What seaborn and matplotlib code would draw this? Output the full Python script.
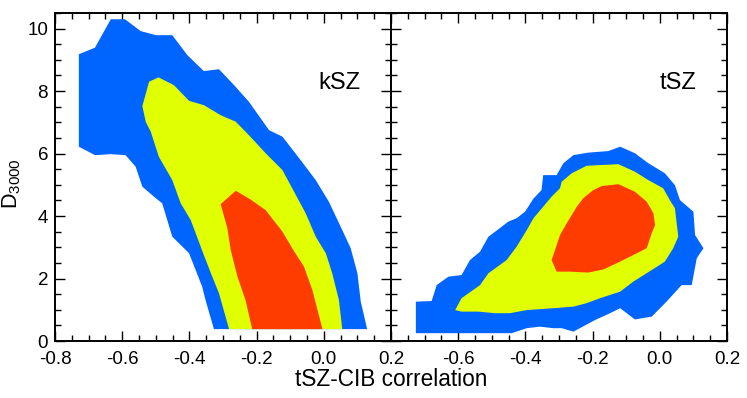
import matplotlib
matplotlib.use("Agg")
import matplotlib.pyplot as plt
from matplotlib.ticker import MultipleLocator
import seaborn as sns

sns.set_theme(style="ticks")
plt.rcParams['font.family'] = ['Liberation Sans', 'DejaVu Sans']
plt.rcParams['mathtext.fontset'] = 'custom'
plt.rcParams['mathtext.rm'] = 'Liberation Sans'
plt.rcParams['mathtext.it'] = 'Liberation Sans'
plt.rcParams['text.color'] = 'black'

BLUE = "#0064ff"
YELLOW = "#e0ff00"
RED = "#ff3c00"

# kSZ panel contours (68/95/99 style regions)
ksz_outer_x = [-0.729, -0.681, -0.634, -0.592, -0.545, -0.500, -0.451, -0.406, -0.357, -0.312,
               -0.267, -0.223, -0.163, -0.123, -0.069, -0.024, 0.015, 0.055, 0.080, 0.100,
               0.110, 0.129, -0.327, -0.352, -0.362, -0.401, -0.451, -0.481, -0.500, -0.540,
               -0.560, -0.590, -0.634, -0.681, -0.729]
ksz_outer_y = [9.18, 9.39, 10.30, 10.30, 9.92, 9.79, 9.79, 9.15, 8.64, 8.70,
               8.19, 7.66, 6.75, 6.54, 5.79, 5.15, 4.46, 3.55, 2.97, 2.17,
               1.26, 0.38, 0.38, 1.31, 1.74, 2.81, 3.34, 4.41, 4.57, 4.94,
               5.58, 5.95, 5.98, 5.95, 6.22]

ksz_mid_x = [-0.540, -0.520, -0.492, -0.446, -0.401, -0.357, -0.307, -0.262, -0.223, -0.173,
             -0.123, -0.094, -0.054, -0.024, 0.006, 0.025, 0.045, 0.055, -0.282, -0.312,
             -0.332, -0.357, -0.396, -0.426, -0.451, -0.491, -0.515, -0.530]
ksz_mid_y = [7.52, 8.30, 8.44, 8.19, 7.69, 7.55, 7.23, 7.02, 6.59, 6.01,
             5.47, 4.89, 4.09, 3.34, 2.81, 2.17, 1.31, 0.38, 0.38, 1.53,
             2.06, 2.75, 3.87, 4.41, 5.15, 5.90, 6.70, 7.02]

ksz_inner_x = [-0.307, -0.262, -0.218, -0.173, -0.123, -0.094, -0.059, -0.034, -0.004,
               -0.213, -0.233, -0.257, -0.277, -0.287]
ksz_inner_y = [4.38, 4.81, 4.53, 4.19, 3.50, 2.97, 2.38, 1.63, 0.38,
               0.38, 1.31, 2.06, 2.91, 3.61]

# tSZ panel contours
tsz_outer_x = [-0.726, -0.726, -0.679, -0.664, -0.629, -0.590, -0.565, -0.535, -0.510, -0.490,
               -0.451, -0.426, -0.401, -0.376, -0.352, -0.347, -0.307, -0.287, -0.257, -0.213,
               -0.153, -0.118, -0.074, -0.034, 0.015, 0.045, 0.060, 0.100, 0.105, 0.130,
               0.110, 0.095, 0.065, 0.020, -0.024, -0.074, -0.118, -0.148, -0.193, -0.257,
               -0.292, -0.317, -0.357, -0.396, -0.441]
tsz_outer_y = [0.25, 1.26, 1.28, 1.79, 2.06, 2.11, 2.59, 2.86, 3.34, 3.50,
               3.82, 3.93, 4.14, 4.56, 4.83, 5.31, 5.31, 5.69, 5.95, 6.03,
               6.08, 6.22, 6.01, 5.69, 5.37, 4.99, 4.51, 4.14, 3.39, 2.97,
               2.65, 1.79, 1.79, 1.26, 0.78, 0.69, 1.05, 0.89, 0.67, 0.30,
               0.41, 0.41, 0.46, 0.41, 0.25]

tsz_mid_x = [-0.609, -0.590, -0.535, -0.510, -0.456, -0.426, -0.396, -0.376, -0.347, -0.322,
             -0.297, -0.292, -0.262, -0.218, -0.123, -0.074, -0.034, 0.010, 0.030, 0.045,
             0.055, 0.040, 0.015, -0.039, -0.079, -0.118, -0.178, -0.218, -0.257, -0.317,
             -0.396, -0.446, -0.490, -0.540, -0.590]
tsz_mid_y = [0.99, 1.37, 1.79, 2.17, 2.59, 3.02, 3.55, 3.93, 4.30, 4.62,
             4.89, 5.10, 5.37, 5.61, 5.66, 5.42, 5.15, 4.89, 4.51, 4.25,
             3.34, 2.97, 2.54, 2.17, 1.90, 1.58, 1.37, 1.21, 1.10, 1.05,
             0.99, 0.89, 0.89, 0.94, 0.94]

tsz_inner_x = [-0.322, -0.307, -0.297, -0.277, -0.247, -0.228, -0.198, -0.173, -0.123, -0.074,
               -0.039, -0.019, -0.014, -0.024, -0.039, -0.079, -0.128, -0.168, -0.213, -0.267,
               -0.307]
tsz_inner_y = [2.59, 3.07, 3.39, 3.77, 4.30, 4.57, 4.83, 4.96, 5.02, 4.78,
               4.46, 4.09, 3.71, 3.45, 2.97, 2.75, 2.49, 2.29, 2.19, 2.22,
               2.22]

panels = [
    ("kSZ", [(ksz_outer_x, ksz_outer_y), (ksz_mid_x, ksz_mid_y), (ksz_inner_x, ksz_inner_y)]),
    ("tSZ", [(tsz_outer_x, tsz_outer_y), (tsz_mid_x, tsz_mid_y), (tsz_inner_x, tsz_inner_y)]),
]
colors = [BLUE, YELLOW, RED]
xticks = [-0.8, -0.6, -0.4, -0.2, 0.0, 0.2]
yticks = [0, 2, 4, 6, 8, 10]

fig = plt.figure(figsize=(7.47, 3.98), dpi=100)
w = 336 / 747
h = 328 / 398
b = 57 / 398
axes = [fig.add_axes([55 / 747, b, w, h]), fig.add_axes([55 / 747 + w, b, w, h])]

for i, (ax, (name, regions)) in enumerate(zip(axes, panels)):
    for (xs, ys), c in zip(regions, colors):
        ax.fill(xs, ys, color=c, lw=0)
    ax.set_xlim(-0.8, 0.2)
    ax.set_ylim(0, 10.5)
    ax.set_xticks(xticks)
    ax.set_xticklabels(["%.1f" % t for t in xticks])
    ax.set_yticks(yticks)
    ax.xaxis.set_minor_locator(MultipleLocator(0.05))
    ax.yaxis.set_minor_locator(MultipleLocator(0.5))
    ax.tick_params(which="both", direction="in", top=True, right=True,
                   width=1.0, colors="black", labelsize=13.5)
    ax.tick_params(which="major", length=7)
    ax.tick_params(which="minor", length=4.5)
    ax.tick_params(axis="x", which="major", pad=7)
    ax.tick_params(axis="y", which="major", pad=5)
    for s in ax.spines.values():
        s.set_linewidth(1.4)
        s.set_color("black")
    ax.text(0.91, 0.787, name, transform=ax.transAxes, ha="right", va="center",
            fontsize=17)
    if i == 1:
        ax.set_yticklabels([])
        ax.xaxis.get_majorticklabels()[0].set_visible(False)

fig.text(12 / 747, (398 - 184) / 398, "D$_{3000}$", rotation=90, ha="center", va="center",
         fontsize=15.5)
fig.text(391 / 747, 0.047, "tSZ-CIB correlation", ha="center", va="center", fontsize=16.3)

fig.savefig("out.png", dpi=100)
